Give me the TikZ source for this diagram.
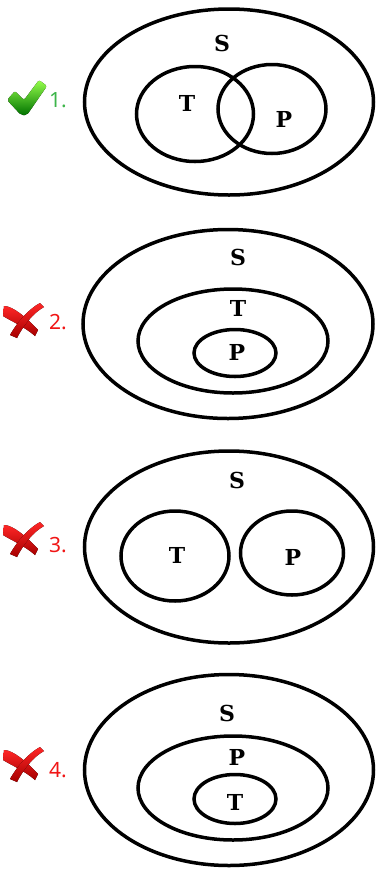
\documentclass[tikz,border=0pt]{standalone}
\usepackage{fontspec}
\newfontfamily\numfont{Noto Sans}
\newfontfamily\letfont{DejaVu Serif}
\usetikzlibrary{shapes.geometric}
\definecolor{okgreen}{HTML}{3DB54A}
\definecolor{badred}{HTML}{F01515}
\tikzset{
  venn/.style={ellipse, draw=black, line width=3.5pt, inner sep=0pt, outer sep=0pt},
  setlbl/.style={font=\letfont\bfseries\fontsize{22}{26}\selectfont, inner sep=0pt},
  numlbl/.style={font=\numfont\fontsize{21}{24}\selectfont, anchor=west, inner sep=0pt},
  checkmark/.pic={
    \fill[top color=green!45!lime!70!white, bottom color=green!45!black, rounded corners=2pt]
      (-18,2) -- (-10,-7) -- (-1,2) -- (14,-18) -- (22,-12) -- (2,17) -- (-4,17) -- cycle;
  },
  crossmark/.pic={
    \fill[top color=red!85!white, bottom color=red!65!black]
      (-19,-15) .. controls (-10,-15) and (4,-3) .. (15,9)
      -- (12,15) .. controls (2,6) and (-12,0) .. (-20,-5) -- cycle;
    \fill[top color=red!85!white, bottom color=red!65!black]
      (17,-18) .. controls (6,-12) and (-5,0) .. (-13,14)
      -- (-6,17) .. controls (0,5) and (10,-8) .. (21,-14) -- cycle;
  }
}
\begin{document}
\begin{tikzpicture}[x=1pt,y=-1pt]
\useasboundingbox (0,0) rectangle (377,871);
% Panel 1
\node[venn, minimum width=289, minimum height=186] (s1) at (229,102) {};
\node[venn, minimum width=117, minimum height=95] (t1) at (195,114) {};
\node[venn, minimum width=108, minimum height=89] (p1) at (272,109) {};
\node[setlbl] (s1l) at (222,43) {S};
\node[setlbl] (t1l) at (187,103) {T};
\node[setlbl] (p1l) at (284,119) {P};
\pic at (25,98) {checkmark};
\node[numlbl, text=okgreen] (n1) at (49,100) {1.};
% Panel 2
\node[venn, minimum width=290, minimum height=189] (s2) at (228,324) {};
\node[venn, minimum width=190, minimum height=104] (t2) at (233,341) {};
\node[venn, minimum width=82, minimum height=47] (p2) at (235,353) {};
\node[setlbl] (s2l) at (238,257) {S};
\node[setlbl] (t2l) at (238,308) {T};
\node[setlbl] (p2l) at (237,352) {P};
\pic at (23,321) {crossmark};
\node[numlbl, text=badred] (n2) at (49,322) {2.};
% Panel 3
\node[venn, minimum width=289, minimum height=192] (s3) at (229,547) {};
\node[venn, minimum width=108, minimum height=90] (t3) at (175,556) {};
\node[venn, minimum width=103, minimum height=84] (p3) at (292,553) {};
\node[setlbl] (s3l) at (237,480) {S};
\node[setlbl] (t3l) at (177,555) {T};
\node[setlbl] (p3l) at (293,557) {P};
\pic at (23,540) {crossmark};
\node[numlbl, text=badred] (n3) at (49,545) {3.};
% Panel 4
\node[venn, minimum width=289, minimum height=191] (s4) at (229,770) {};
\node[venn, minimum width=190, minimum height=104] (p4) at (233,788) {};
\node[venn, minimum width=82, minimum height=49] (t4) at (235,799) {};
\node[setlbl] (s4l) at (227,713) {S};
\node[setlbl] (p4l) at (237,757) {P};
\node[setlbl] (t4l) at (235,802) {T};
\pic at (23,765) {crossmark};
\node[numlbl, text=badred] (n4) at (49,770) {4.};
\end{tikzpicture}
\end{document}
